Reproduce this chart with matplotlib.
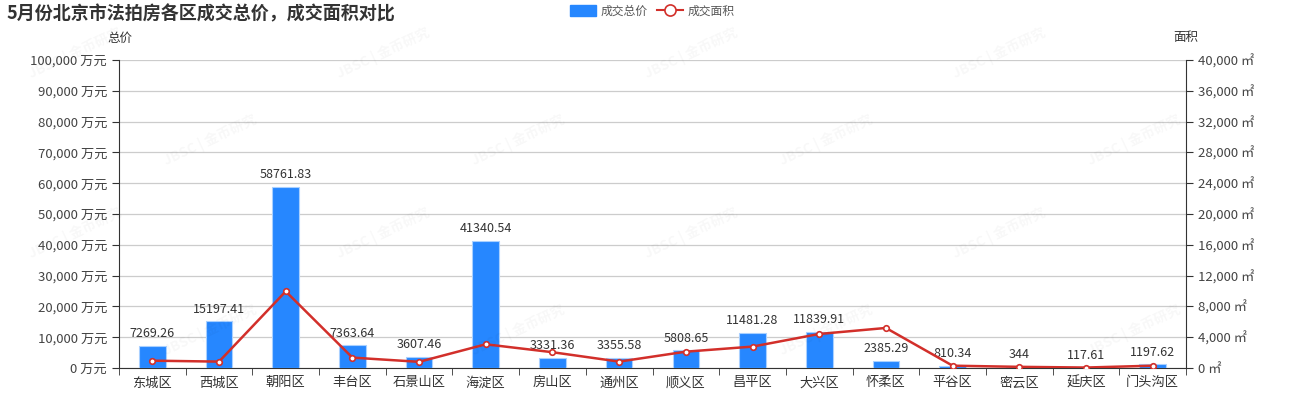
import matplotlib
matplotlib.use("Agg")
import matplotlib.pyplot as plt
from matplotlib.ticker import FuncFormatter, MultipleLocator
from matplotlib.lines import Line2D
from matplotlib.patches import FancyBboxPatch

plt.rcParams['font.family'] = ['Noto Sans CJK SC', 'DejaVu Sans']

# districts and values
districts = ["东城区", "西城区", "朝阳区", "丰台区", "石景山区", "海淀区", "房山区", "通州区",
             "顺义区", "昌平区", "大兴区", "怀柔区", "平谷区", "密云区", "延庆区", "门头沟区"]
total_price = [7269.26, 15197.41, 58761.83, 7363.64, 3607.46, 41340.54, 3331.36, 3355.58,
               5808.65, 11481.28, 11839.91, 2385.29, 810.34, 344, 117.61, 1197.62]
price_labels = ["7269.26", "15197.41", "58761.83", "7363.64", "3607.46", "41340.54", "3331.36",
                "3355.58", "5808.65", "11481.28", "11839.91", "2385.29", "810.34", "344",
                "117.61", "1197.62"]
# area (approx)
area = [950, 830, 9950, 1350, 800, 3080, 2050, 830,
        2120, 2780, 4420, 5200, 300, 150, 60, 300]

bar_color = "#2687ff"
line_color = "#d22f2a"
txt = "#333333"

fig = plt.figure(figsize=(13, 4), dpi=100)
ax = fig.add_axes([119 / 1300, 32 / 400, (1186 - 119) / 1300, (368 - 60) / 400])
ax2 = ax.twinx()

x = list(range(len(districts)))
ax.bar(x, total_price, width=0.4, color=bar_color, edgecolor="#a9d0ff", linewidth=0.8, zorder=3)
for xi, v, lab in zip(x, total_price, price_labels):
    ax.annotate(lab, (xi, v), xytext=(0, 4), textcoords="offset points",
                ha="center", va="bottom", fontsize=9, color=txt, zorder=6)

ax2.plot(x, area, color=line_color, lw=1.8, marker="o", markersize=4,
         markerfacecolor="white", markeredgecolor=line_color, markeredgewidth=1.2, zorder=5)

ax.set_xlim(-0.5, len(districts) - 0.5)
ax.set_ylim(0, 100000)
ax2.set_ylim(0, 40000)
ax.yaxis.set_major_locator(MultipleLocator(10000))
ax2.yaxis.set_major_locator(MultipleLocator(4000))
ax.yaxis.set_major_formatter(FuncFormatter(lambda v, p: f"{int(v):,} 万元"))
ax2.yaxis.set_major_formatter(FuncFormatter(lambda v, p: f"{int(v):,} ㎡"))

ax.set_xticks(x)
ax.set_xticklabels(districts, fontsize=9.5, color=txt)
ax.set_xticks([i - 0.5 for i in range(len(districts) + 1)], minor=True)
ax.tick_params(axis="x", which="major", length=0, pad=6)
ax.tick_params(axis="x", which="minor", length=5, color=txt)
ax.tick_params(axis="y", length=5, color=txt, labelsize=9.5, labelcolor="#444444")
ax2.tick_params(axis="y", length=5, color=txt, labelsize=9.5, labelcolor="#444444")

ax.grid(axis="y", color="#cccccc", lw=0.9, zorder=0)
ax.set_axisbelow(True)
for a in (ax, ax2):
    a.spines["top"].set_visible(False)
    a.spines["left"].set_color(txt)
    a.spines["right"].set_color(txt)
    a.spines["bottom"].set_color(txt)
ax.spines["right"].set_visible(False)
ax2.spines["left"].set_visible(False)
ax2.spines["bottom"].set_visible(False)

# axis names
fig.text(120 / 1300, 1 - 38 / 400, "总价", ha="center", va="center", fontsize=9, color=txt)
fig.text(1186 / 1300, 1 - 38 / 400, "面积", ha="center", va="center", fontsize=9, color=txt)

# title
fig.text(6 / 1300, 1 - 14 / 400, "5月份北京市法拍房各区成交总价，成交面积对比",
         ha="left", va="center", fontsize=13, fontweight="bold", color=txt)

# legend
legend_handles = [
    FancyBboxPatch((0, 0), 1, 1, boxstyle="round,pad=0,rounding_size=0.2", color=bar_color),
    Line2D([0], [0], color=line_color, lw=1.5, marker="o", markersize=8,
           markerfacecolor="white", markeredgecolor=line_color, markeredgewidth=1.2),
]
fig.legend(legend_handles, ["成交总价", "成交面积"], loc="center", bbox_to_anchor=(652 / 1300, 1 - 11 / 400),
           ncol=2, frameon=False, fontsize=8.5, handlelength=2.2, handleheight=1.0,
           columnspacing=0.8, handletextpad=0.4, labelcolor="#555555")

# faint watermark
for row, yy in enumerate([53, 140, 233, 330]):
    start = 75 if row % 2 == 0 else 210 - 308
    for k in range(6):
        xx = start + k * 308
        if xx < 30 or xx > 1250:
            continue
        fig.text(xx / 1300, 1 - yy / 400, "JBSC | 金币研究", ha="center", va="center",
                 fontsize=10, fontweight="bold", color="#000000", alpha=0.03, rotation=25, zorder=0)

fig.savefig("out.png", dpi=100, facecolor="white")
